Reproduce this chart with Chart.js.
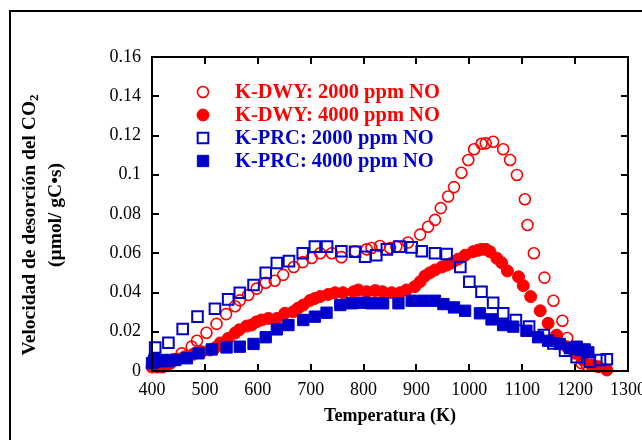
<!DOCTYPE html>
<html>
<head>
<meta charset="utf-8">
<script src="https://cdn.jsdelivr.net/npm/chart.js@4.4.1/dist/chart.umd.min.js"></script>
<style>
  html, body { margin: 0; padding: 0; background: #fff; }
  #wrap { width: 642px; height: 440px; }
</style>
</head>
<body>
<div id="wrap"><canvas id="c" width="642" height="440"></canvas></div>
<script>
/* ---- data ---- */
const dwy2000T = [403, 412, 422, 432, 442, 456, 475, 485, 503, 522, 540, 557, 566, 582, 598, 615, 632, 648, 668, 685, 702, 718, 740, 758, 784, 806, 815, 831, 850, 862, 884, 907, 922, 935, 946, 960, 971, 985, 998, 1009, 1023, 1031, 1045, 1064, 1077, 1090, 1105, 1110, 1122, 1142, 1159, 1176, 1185, 1196, 1212, 1222, 1234];
const dwy2000R = [0.003, 0.003, 0.004, 0.005, 0.006, 0.009, 0.0124, 0.0154, 0.0195, 0.024, 0.029, 0.033, 0.036, 0.0387, 0.042, 0.045, 0.046, 0.049, 0.053, 0.0555, 0.0576, 0.060, 0.060, 0.058, 0.061, 0.062, 0.0627, 0.0637, 0.0627, 0.0634, 0.0655, 0.0695, 0.0735, 0.077, 0.083, 0.0889, 0.0937, 0.101, 0.1075, 0.113, 0.1158, 0.116, 0.1168, 0.113, 0.1075, 0.0999, 0.0875, 0.0744, 0.060, 0.0476, 0.0358, 0.0256, 0.0168, 0.0107, 0.004, 0.003, 0.003];

const dwy4000T = [400, 405, 410, 415, 420, 428, 435, 440, 450, 462, 478, 494, 510, 520, 529, 544, 557, 565, 579, 588, 597, 607, 620, 636, 651, 667, 676, 686, 699, 708, 718, 733, 746, 761, 781, 790, 806, 822, 836, 853, 869, 881, 897, 907, 916, 925, 935, 948, 958, 967, 979, 992, 1007, 1016, 1023, 1031, 1039, 1052, 1061, 1072, 1093, 1102, 1116, 1134, 1149, 1165, 1184, 1200, 1215, 1231, 1244, 1260];
const dwy4000R = [0.002, 0.003, 0.002, 0.003, 0.002, 0.003, 0.004, 0.0056, 0.006, 0.0073, 0.0085, 0.0098, 0.0107, 0.012, 0.0143, 0.0166, 0.0193, 0.021, 0.0229, 0.0234, 0.025, 0.026, 0.0268, 0.0268, 0.0294, 0.0302, 0.032, 0.0336, 0.036, 0.037, 0.038, 0.039, 0.0399, 0.0399, 0.0404, 0.0413, 0.0404, 0.041, 0.0404, 0.0399, 0.0399, 0.0413, 0.043, 0.0455, 0.0484, 0.050, 0.0515, 0.053, 0.054, 0.055, 0.057, 0.059, 0.0608, 0.0615, 0.062, 0.062, 0.0608, 0.0574, 0.0552, 0.051, 0.048, 0.0435, 0.0379, 0.0307, 0.0243, 0.0183, 0.0124, 0.009, 0.0056, 0.003, 0.0022, 0.0005];

const prc2000T = [404, 406, 431, 458, 486, 519, 544, 566, 592, 615, 636, 659, 685, 708, 731, 758, 784, 803, 824, 844, 868, 891, 910, 935, 957, 983, 1000, 1023, 1045, 1064, 1088, 1113, 1141, 1159, 1181, 1203, 1228, 1247, 1260];
const prc2000R = [0.005, 0.012, 0.0144, 0.0214, 0.0277, 0.0317, 0.0365, 0.0399, 0.0438, 0.050, 0.055, 0.056, 0.060, 0.0634, 0.0634, 0.061, 0.0608, 0.0582, 0.059, 0.062, 0.0634, 0.063, 0.061, 0.060, 0.0596, 0.053, 0.0455, 0.0404, 0.0348, 0.0294, 0.026, 0.0226, 0.0183, 0.014, 0.0103, 0.007, 0.0047, 0.0056, 0.006];

const prc4000T = [400, 405, 412, 420, 428, 436, 444, 466, 488, 513, 541, 566, 592, 615, 636, 658, 686, 708, 730, 756, 778, 800, 815, 837, 866, 891, 913, 935, 951, 971, 992, 1020, 1042, 1064, 1083, 1108, 1130, 1149, 1171, 1190, 1203, 1210, 1218, 1225];
const prc4000R = [0.004, 0.006, 0.005, 0.0056, 0.005, 0.0056, 0.0056, 0.0065, 0.009, 0.011, 0.012, 0.0124, 0.0138, 0.0172, 0.0212, 0.0234, 0.026, 0.0277, 0.0297, 0.0336, 0.0345, 0.0348, 0.0345, 0.0345, 0.0345, 0.0358, 0.0358, 0.0358, 0.0341, 0.0324, 0.0307, 0.0294, 0.0263, 0.0234, 0.0226, 0.0205, 0.0172, 0.0154, 0.0138, 0.0116, 0.0124, 0.0107, 0.011, 0.0095];

const seriesLabels = ['K-DWY: 2000 ppm NO', 'K-DWY: 4000 ppm NO', 'K-PRC: 2000 ppm NO', 'K-PRC: 4000 ppm NO'];
const xTickMin = 400, xTickMax = 1300, xTickStep = 100;
const yTickMin = 0, yTickMax = 0.16, yTickStep = 0.02;

const RED = '#ff0000';
const BLUE = '#0000cc';
const SERIF = '"Liberation Serif", "Times New Roman", serif';

const pairs = (xs, ys) => xs.map((x, i) => ({ x: x, y: ys[i] }));

/* ---- plot frame, inward ticks, outer border ---- */
const framePlugin = {
  id: 'frame',
  afterDatasetsDraw(chart) {
    const { ctx, chartArea: a, scales } = chart;
    ctx.save();
    ctx.strokeStyle = '#000';
    ctx.lineWidth = 2;
    ctx.strokeRect(a.left, a.top, a.right - a.left, a.bottom - a.top);
    const tl = 7;
    ctx.beginPath();
    scales.x.ticks.forEach(t => {
      const px = Math.round(scales.x.getPixelForValue(t.value));
      ctx.moveTo(px, a.bottom); ctx.lineTo(px, a.bottom - tl);
      ctx.moveTo(px, a.top); ctx.lineTo(px, a.top + tl);
    });
    scales.y.ticks.forEach(t => {
      const py = Math.round(scales.y.getPixelForValue(t.value));
      ctx.moveTo(a.left, py); ctx.lineTo(a.left + tl, py);
      ctx.moveTo(a.right, py); ctx.lineTo(a.right - tl, py);
    });
    ctx.stroke();
    // outer box of the figure (runs off the right and bottom edges)
    ctx.strokeRect(10, 11, 700, 500);
    ctx.restore();
  }
};

/* ---- y axis title (two lines, with subscript) ---- */
const yTitlePlugin = {
  id: 'ytitle',
  afterDraw(chart) {
    const ctx = chart.ctx;
    ctx.save();
    ctx.fillStyle = '#000';
    ctx.textBaseline = 'middle';
    ctx.textAlign = 'left';
    // line 1
    const main = 'Velocidad de desorción del CO';
    ctx.font = 'bold 19.5px ' + SERIF;
    const w1 = ctx.measureText(main).width;
    ctx.font = 'bold 13px ' + SERIF;
    const w2 = ctx.measureText('2').width;
    ctx.translate(30, 225);
    ctx.rotate(-Math.PI / 2);
    ctx.font = 'bold 19.5px ' + SERIF;
    ctx.fillText(main, -(w1 + w2) / 2, 0);
    ctx.font = 'bold 13px ' + SERIF;
    ctx.fillText('2', -(w1 + w2) / 2 + w1, 5);
    ctx.restore();
    // line 2
    ctx.save();
    ctx.fillStyle = '#000';
    ctx.textBaseline = 'middle';
    ctx.textAlign = 'center';
    ctx.font = 'bold 19.5px ' + SERIF;
    ctx.translate(56, 215);
    ctx.rotate(-Math.PI / 2);
    ctx.fillText('(µmol/ gC•s)', 0, 0);
    ctx.restore();
  }
};

/* ---- legend inside the plot ---- */
const legendPlugin = {
  id: 'insideLegend',
  afterDraw(chart) {
    const ctx = chart.ctx;
    const mx = 203, tx = 235, y0 = 92, dy = 23;
    ctx.save();
    ctx.font = 'bold 20.5px ' + SERIF;
    ctx.textBaseline = 'middle';
    ctx.textAlign = 'left';
    chart.data.datasets.forEach((ds, i) => {
      const y = y0 + i * dy;
      ctx.lineWidth = ds.pointBorderWidth;
      ctx.strokeStyle = ds.pointBorderColor;
      ctx.fillStyle = ds.pointBackgroundColor;
      ctx.beginPath();
      if (ds.pointStyle === 'circle') {
        ctx.arc(mx, y, ds.pointRadius, 0, Math.PI * 2);
      } else {
        const s = ds.pointRadius * Math.SQRT1_2;
        ctx.rect(mx - s, y - s, 2 * s, 2 * s);
      }
      ctx.fill();
      ctx.stroke();
      ctx.fillStyle = ds.legendColor;
      ctx.fillText(ds.label, tx, y + 1);
    });
    ctx.restore();
  }
};

const ctx = document.getElementById('c').getContext('2d');
new Chart(ctx, {
  type: 'scatter',
  data: {
    datasets: [
      {
        label: seriesLabels[0],
        data: pairs(dwy2000T, dwy2000R),
        pointStyle: 'circle',
        pointRadius: 5.5,
        pointBorderWidth: 1.6,
        pointBorderColor: RED,
        pointBackgroundColor: 'rgba(255,255,255,0)',
        legendColor: RED,
        order: 2,
        clip: false,
      },
      {
        label: seriesLabels[1],
        data: pairs(dwy4000T, dwy4000R),
        pointStyle: 'circle',
        pointRadius: 6,
        pointBorderWidth: 1,
        pointBorderColor: RED,
        pointBackgroundColor: RED,
        legendColor: RED,
        order: 3,
        clip: false,
      },
      {
        label: seriesLabels[2],
        data: pairs(prc2000T, prc2000R),
        pointStyle: 'rect',
        pointRadius: 7.5,
        pointBorderWidth: 2,
        pointBorderColor: BLUE,
        pointBackgroundColor: 'rgba(255,255,255,0)',
        legendColor: BLUE,
        order: 1,
        clip: false,
      },
      {
        label: seriesLabels[3],
        data: pairs(prc4000T, prc4000R),
        pointStyle: 'rect',
        pointRadius: 8,
        pointBorderWidth: 1,
        pointBorderColor: BLUE,
        pointBackgroundColor: BLUE,
        legendColor: BLUE,
        order: 0,
        clip: false,
      },
    ],
  },
  options: {
    responsive: false,
    animation: false,
    devicePixelRatio: 1,
    layout: { padding: { top: 57, right: 14, left: 0, bottom: 0 } },
    plugins: { legend: { display: false }, tooltip: { enabled: false } },
    scales: {
      x: {
        type: 'linear',
        min: xTickMin,
        max: xTickMax,
        grid: { display: false, drawTicks: false },
        border: { display: false },
        ticks: {
          stepSize: xTickStep,
          maxRotation: 0,
          autoSkip: false,
          padding: 8,
          color: '#000',
          font: { family: SERIF, size: 18 },
          callback: v => String(v),
        },
        title: {
          display: true,
          text: 'Temperatura (K)',
          color: '#000',
          font: { family: SERIF, size: 18, weight: 'bold' },
          padding: { top: 0, bottom: 13 },
        },
        afterFit(s) { s.height = 69; s.paddingLeft = 0; s.paddingRight = 0; },
      },
      y: {
        min: yTickMin,
        max: yTickMax,
        grid: { display: false, drawTicks: false },
        border: { display: false },
        ticks: {
          stepSize: yTickStep,
          padding: 11,
          color: '#000',
          font: { family: SERIF, size: 18 },
          callback: v => String(+v.toFixed(2)),
        },
        afterFit(s) { s.width = 152; s.paddingTop = 0; s.paddingBottom = 0; },
      },
    },
  },
  plugins: [framePlugin, yTitlePlugin, legendPlugin],
});
</script>
</body>
</html>
